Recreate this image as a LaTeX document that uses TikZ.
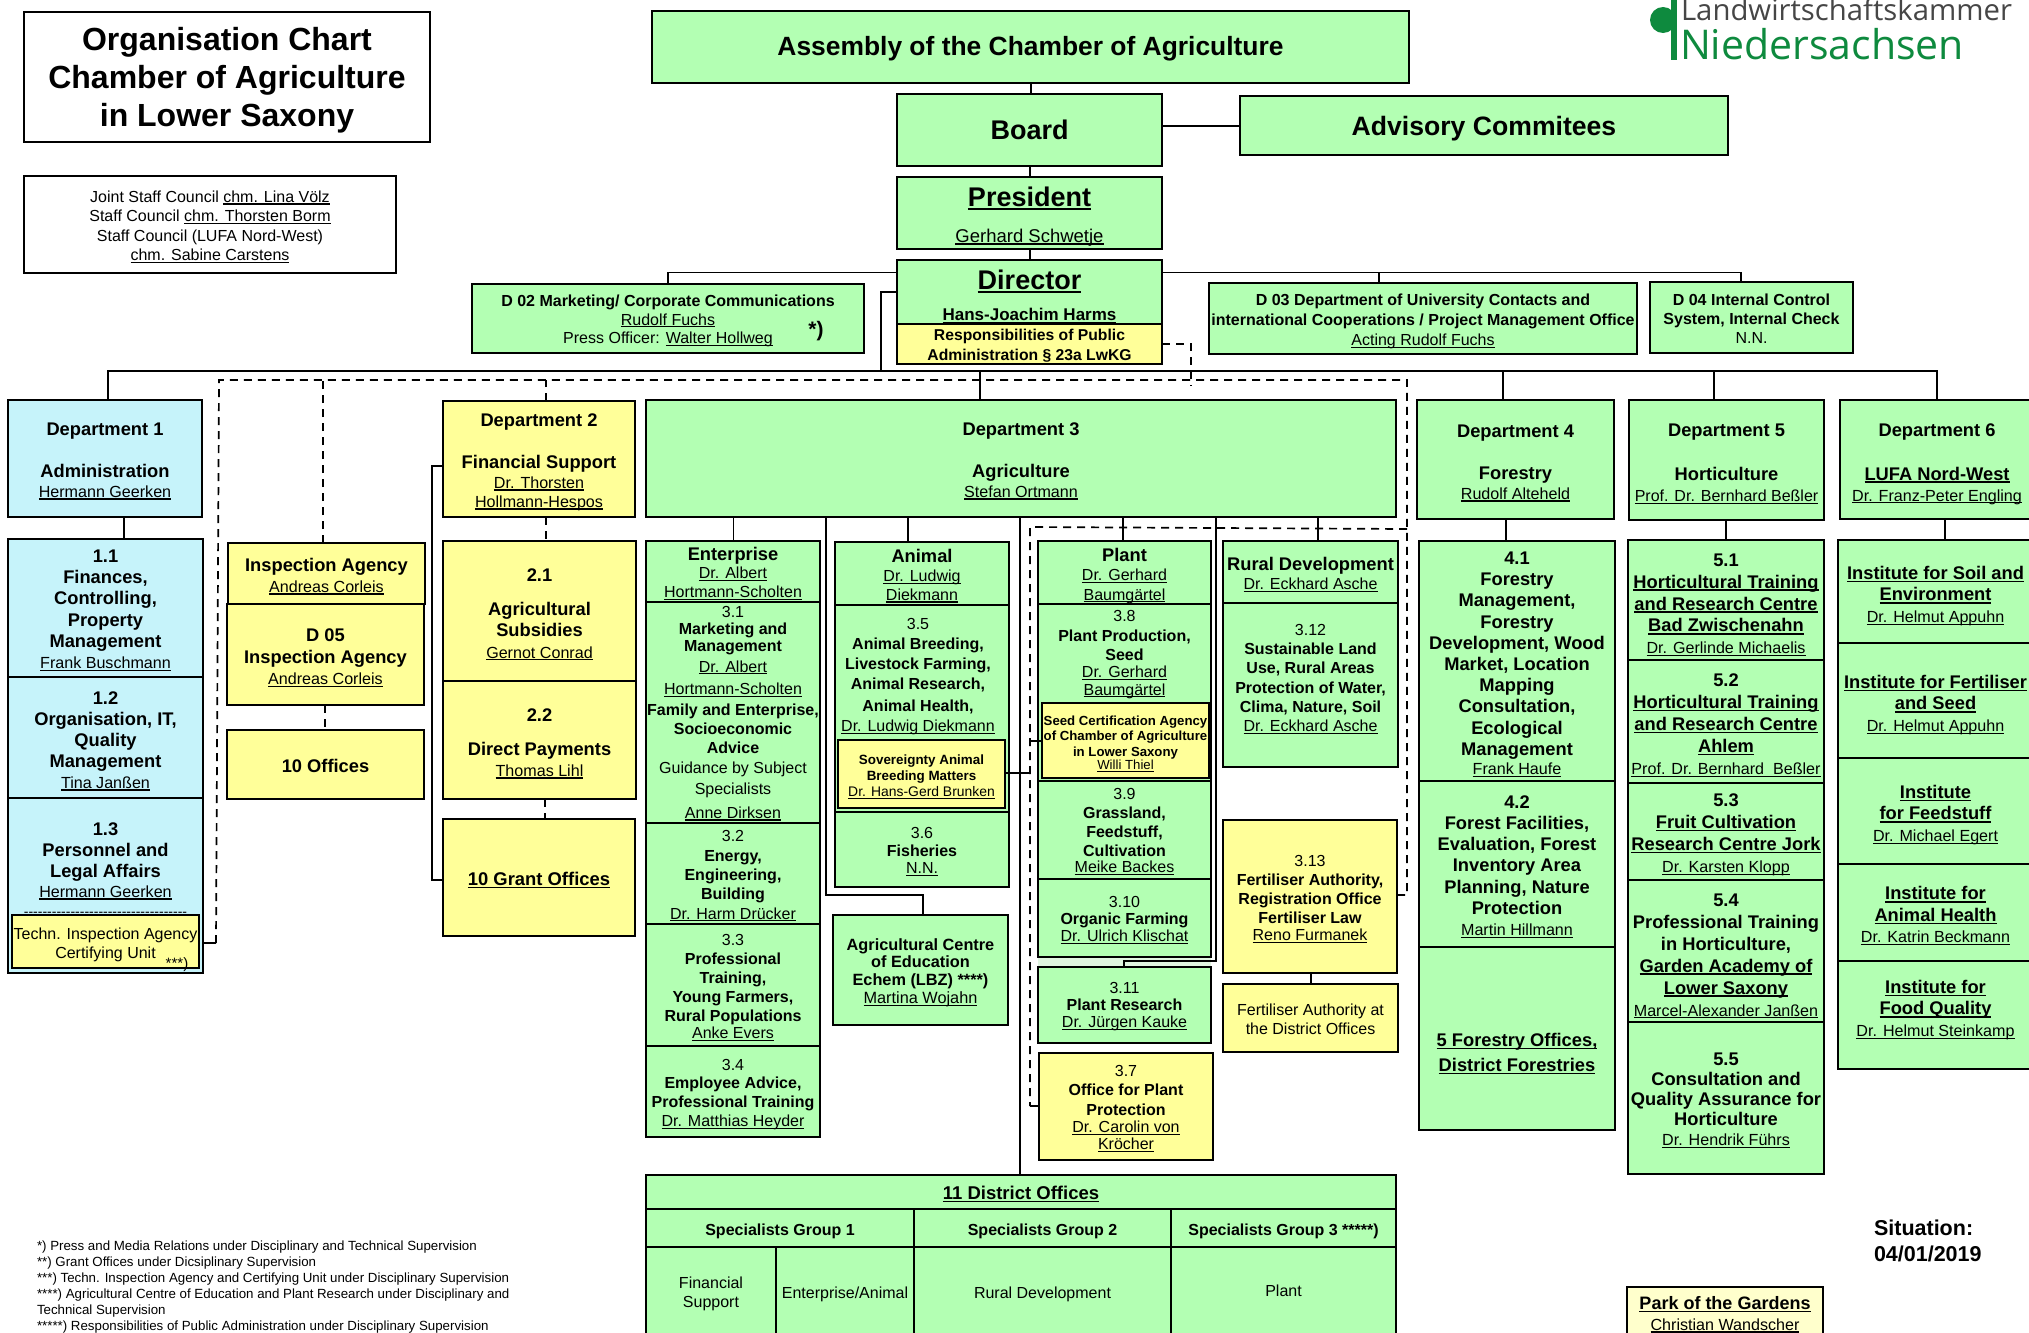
\documentclass[tikz,border=0pt]{standalone}
\usepackage{fontspec}
\setmainfont{Liberation Sans}
\newfontfamily\logofont{Open Sans}
\definecolor{grn}{RGB}{179,255,179}
\definecolor{blu}{RGB}{198,243,250}
\definecolor{yel}{RGB}{255,255,153}
\definecolor{pale}{RGB}{255,255,204}
\definecolor{gap}{RGB}{224,245,224}
\definecolor{logogreen}{RGB}{14,138,62}
\definecolor{logogrey}{RGB}{70,70,70}
\tikzset{
  basebox/.style={draw=black,line width=1.9pt,inner sep=0pt,outer sep=0pt},
  gbox/.style={basebox,fill=grn},
  bbox/.style={basebox,fill=blu},
  ybox/.style={basebox,fill=yel},
  pbox/.style={basebox,fill=pale},
  wbox/.style={basebox,fill=white},
  ln/.style={draw=black,line width=1.8pt},
  dsh/.style={draw=black,line width=1.7pt,dash pattern=on 8pt off 6pt},
  free/.style={inner sep=0pt,outer sep=0pt}
}
\newcommand\ul[1]{\leavevmode\begingroup\setbox0=\hbox{#1}\rlap{\rule[-.14em]{\wd0}{.07em}}\box0\endgroup}
\newcommand\Bu[1]{\ul{\textbf{#1}}}
\newcommand\Nm[1]{{\fontsize{16.1}{20}\selectfont\ul{#1}}}
\newcommand\Nr[1]{{\fontsize{16}{20}\selectfont #1}}
\def\getfmt#1,#2,#3,#4;{\def\fs{#1}\def\fb{#2}\def\fd{#3}\def\fx{#4}}
% style, name, x1,y1,x2,y2, {size,baseline,dy,dx}, content
\newcommand\bx[8]{\getfmt#7;%
  \node[#1,minimum width={(#5-#3)*1pt},minimum height={(#6-#4)*1pt}] (#2) at ({(#3+#5)/2},{(#4+#6)/2})
  {\fontsize{\fs}{\fb}\selectfont\raisebox{\dimexpr-\fd pt-.25em-2.4pt\relax}[0pt][0pt]{\kern\fx pt\makebox[0pt]{\begin{tabular}[c]{@{}c@{}}#8\end{tabular}}\kern-\fx pt}};}
\begin{document}
\begin{tikzpicture}[x=1pt,y=-1pt]
\useasboundingbox (0,0) rectangle (2029,1333);
\fill[white] (0,0) rectangle (2029,1333);
\clip (0,0) rectangle (2029,1333);
% logo
\fill[logogreen] (1663,20) circle (13);
\fill[logogreen] (1671,-2) rectangle (1677,60);
\node[free,anchor=base west,text=logogrey,font=\logofont\fontsize{29.3}{30}\selectfont] (lwk) at (1681,20) {Landwirtschaftskammer};
\node[free,anchor=base west,text=logogreen,font=\logofont\fontsize{41}{42}\selectfont] (nds) at (1680,59) {Niedersachsen};
% top
\bx{wbox}{title}{24}{12}{430}{142}{32,38,0,0}{\textbf{Organisation Chart}\\\textbf{Chamber of Agriculture}\\\textbf{in Lower Saxony}}
\bx{wbox}{staff}{24}{176}{396}{273}{16,19.4,1,0}{Joint Staff Council \ul{chm. Lina Völz}\\Staff Council \ul{chm. Thorsten Borm}\\Staff Council (LUFA Nord-West)\\\ul{chm. Sabine Carstens}}
\bx{gbox}{assembly}{652}{11}{1409}{83}{26.4,30,0,0}{\textbf{Assembly of the Chamber of Agriculture}}
\bx{gbox}{board}{897}{94}{1162}{166}{27,30,1,0}{\textbf{Board}}
\bx{gbox}{adv}{1240}{96}{1728}{155}{26.6,30,1,0}{\textbf{Advisory Commitees}}
\bx{gbox}{pres}{897}{177}{1162}{249}{27,36,1,0}{\Bu{President}\\{\fontsize{18.5}{20}\selectfont\ul{Gerhard Schwetje}}}
\bx{gbox}{dir}{897}{260}{1162}{324}{27,31.5,4,0}{\Bu{Director}\\{\fontsize{17}{20}\selectfont\Bu{Hans-Joachim Harms}}}
\bx{ybox}{resp}{897}{324}{1162}{364}{15.7,20,0,0}{\textbf{Responsibilities of Public}\\\textbf{Administration § 23a LwKG}}
\bx{gbox}{d02}{472}{284}{864}{353}{16,18.3,1,0}{\textbf{D 02 Marketing/ Corporate Communications}\\\ul{Rudolf Fuchs}\\Press Officer: \ul{Walter Hollweg}}
\node[free,font=\bfseries\fontsize{21}{22}\selectfont] (star1) at (816,331) {*)};
\bx{gbox}{d03}{1209}{283}{1637}{354}{16,20,1,0}{\textbf{D 03 Department of University Contacts and}\\\textbf{international Cooperations / Project Management Office}\\\ul{Acting Rudolf Fuchs}}
\bx{gbox}{d04}{1650}{282}{1853}{353}{16,19,1,0}{\textbf{D 04 Internal Control}\\\textbf{System, Internal Check}\\N.N.}
% departments
\bx{bbox}{dep1}{8}{400}{202}{517}{18.3,21,1,0}{\textbf{Department 1}\\ \\\textbf{Administration}\\[-1pt]\Nm{Hermann Geerken}}
\bx{ybox}{dep2}{443}{401}{635}{517}{18.3,21,1,0}{\textbf{Department 2}\\ \\\textbf{Financial Support}\\[-1pt]\Nm{Dr. Thorsten}\\[-2pt]\Nm{Hollmann-Hespos}}
\bx{gbox}{dep3}{646}{400}{1396}{517}{18.3,21,1,0}{\textbf{Department 3}\\ \\\textbf{Agriculture}\\[-1pt]\Nm{Stefan Ortmann}}
\bx{gbox}{dep4}{1417}{400}{1614}{519}{18.3,21,2,0}{\textbf{Department 4}\\ \\\textbf{Forestry}\\[-1pt]\Nm{Rudolf Alteheld}}
\bx{gbox}{dep5}{1629}{400}{1824}{520}{18.3,22,2,0}{\textbf{Department 5}\\ \\\textbf{Horticulture}\\[-1pt]{\fontsize{16}{20}\selectfont\ul{Prof. Dr. Bernhard Beßler}}}
\bx{gbox}{dep6}{1840}{400}{2034}{519}{18.3,22,2,0}{\textbf{Department 6}\\ \\\Bu{LUFA Nord-West}\\[-1pt]\Nm{Dr. Franz-Peter Engling}}
% department 1
\bx{bbox}{s11}{8}{539}{203}{677}{18.3,21.3,0.5,0}{\textbf{1.1}\\\textbf{Finances,}\\\textbf{Controlling,}\\\textbf{Property}\\\textbf{Management}\\\Nm{Frank Buschmann}}
\bx{bbox}{s12}{8}{677}{203}{798}{18.3,21,2,0}{\textbf{1.2}\\\textbf{Organisation, IT,}\\\textbf{Quality}\\\textbf{Management}\\\Nm{Tina Janßen}}
\bx{bbox}{s13}{8}{798}{203}{973}{18.3,21,-16.5,0}{\textbf{1.3}\\\textbf{Personnel and}\\\textbf{Legal Affairs}\\[-1pt]\Nm{Hermann Geerken}\\[-2pt]{\fontsize{14}{14}\selectfont -{}-{}-{}-{}-{}-{}-{}-{}-{}-{}-{}-{}-{}-{}-{}-{}-{}-{}-{}-{}-{}-{}-{}-{}-{}-{}-{}-{}-{}-{}-{}-{}-{}-{}-{}}}
\bx{ybox}{techn}{12}{915}{199}{968}{16,19,1.5,0}{Techn. Inspection Agency\\Certifying Unit}
\node[free,font=\fontsize{15}{16}\selectfont] (star3) at (177,965) {***)};
% inspection agency
\bx{ybox}{ia}{228}{543}{425}{604}{18.3,21,1.5,0}{\textbf{Inspection Agency}\\\Nm{Andreas Corleis}}
\bx{ybox}{d05}{227}{604}{424}{705}{18.3,21.5,2,0}{\textbf{D 05}\\\textbf{Inspection Agency}\\\Nm{Andreas Corleis}}
\bx{ybox}{off10}{227}{730}{424}{799}{18.3,21,1.5,0}{\textbf{10 Offices}}
% department 2
\bx{ybox}{s21}{443}{541}{636}{681}{18.3,21.5,2,0}{\textbf{2.1}\\[12pt]\textbf{Agricultural}\\\textbf{Subsidies}\\\Nm{Gernot Conrad}}
\bx{ybox}{s22}{443}{681}{636}{799}{18.3,21,2,0}{\textbf{2.2}\\[13pt]\textbf{Direct Payments}\\\Nm{Thomas Lihl}}
\bx{ybox}{grant}{443}{819}{635}{936}{18.4,21,1.5,0}{\Bu{10 Grant Offices}}
% department 3, enterprise
\bx{gbox}{ent}{646}{541}{820}{602}{16,18.8,1.5,0}{{\fontsize{18.3}{20}\selectfont\textbf{Enterprise}}\\\ul{Dr. Albert}\\\ul{Hortmann-Scholten}}
\bx{gbox}{s31}{646}{602}{820}{823}{16,19.8,-0.5,0}{3.1\\[-3.5pt]\textbf{Marketing and}\\[-2pt]\textbf{Management}\\[.5pt]\ul{Dr. Albert}\\[2.5pt]\ul{Hortmann-Scholten}\\[1pt]\textbf{Family and Enterprise,}\\[-.5pt]\textbf{Socioeconomic}\\[-1pt]\textbf{Advice}\\\Nr{Guidance by Subject}\\[2pt]\Nr{Specialists}\\[3.5pt]\ul{Anne Dirksen}}
\bx{gbox}{s32}{646}{823}{820}{924}{16,19.3,1,0}{3.2\\\textbf{Energy,}\\\textbf{Engineering,}\\\textbf{Building}\\\ul{Dr. Harm Drücker}}
\bx{gbox}{s33}{646}{924}{820}{1046}{16,19,1,0}{3.3\\\textbf{Professional}\\\textbf{Training,}\\\textbf{Young Farmers,}\\\textbf{Rural Populations}\\[-2pt]\ul{Anke Evers}}
\bx{gbox}{s34}{646}{1046}{820}{1137}{16,18.8,1,0}{3.4\\\textbf{Employee Advice,}\\\textbf{Professional Training}\\\ul{Dr. Matthias Heyder}}
% animal
\bx{gbox}{ani}{835}{542}{1009}{605}{16,18.9,2,0}{{\fontsize{18.3}{20}\selectfont\textbf{Animal}}\\\ul{Dr. Ludwig}\\\ul{Diekmann}}
\bx{gbox}{s35}{835}{605}{1009}{812}{16,20,-34,-4}{3.5\\\textbf{Animal Breeding,}\\\textbf{Livestock Farming,}\\\textbf{Animal Research,}\\[2pt]\textbf{Animal Health,}\\\ul{Dr. Ludwig Diekmann}}
\bx{ybox}{sov}{838}{740}{1005}{808}{13.4,16.2,1,0}{\textbf{Sovereignty Animal}\\\textbf{Breeding Matters}\\{\fontsize{13.9}{16}\selectfont\ul{Dr. Hans-Gerd Brunken}}}
\bx{gbox}{s36}{835}{812}{1009}{887}{16,17.6,1,0}{3.6\\\textbf{Fisheries}\\\ul{N.N.}}
\bx{gbox}{agri}{833}{915}{1008}{1025}{16.3,17.8,1,0}{\textbf{Agricultural Centre}\\\textbf{of Education}\\\textbf{Echem (LBZ) ****)}\\\ul{Martina Wojahn}}
% plant
\fill[gap] (1038,957) rectangle (1211,967);
\bx{gbox}{pla}{1038}{541}{1211}{604}{16,19.2,2.5,0}{{\fontsize{18.3}{20}\selectfont\textbf{Plant}}\\\ul{Dr. Gerhard}\\\ul{Baumgärtel}}
\bx{gbox}{s38}{1038}{604}{1211}{781}{16,19,-40,0}{3.8\\[1pt]\textbf{Plant Production,}\\\textbf{Seed}\\[-2pt]\ul{Dr. Gerhard}\\[-1.5pt]\ul{Baumgärtel}}
\bx{ybox}{seed}{1042}{703}{1209}{778}{13.2,15.7,1,0}{\textbf{Seed Certification Agency}\\\textbf{of Chamber of Agriculture}\\\textbf{in Lower Saxony}\\[-2.5pt]\ul{Willi Thiel}}
\bx{gbox}{s39}{1038}{781}{1211}{879}{16,19,0,0}{3.9\\\textbf{Grassland,}\\\textbf{Feedstuff,}\\\textbf{Cultivation}\\[-3pt]\ul{Meike Backes}}
\bx{gbox}{s310}{1038}{879}{1211}{957}{16,17,1,0}{3.10\\\textbf{Organic Farming}\\\ul{Dr. Ulrich Klischat}}
\bx{gbox}{s311}{1038}{967}{1211}{1043}{16,17,0.5,0}{3.11\\\textbf{Plant Research}\\\ul{Dr. Jürgen Kauke}}
\bx{ybox}{s37}{1039}{1053}{1213}{1160}{16,18.6,1,0}{3.7\\\textbf{Office for Plant}\\[1pt]\textbf{Protection}\\[-1pt]\ul{Dr. Carolin von}\\[-1.5pt]\ul{Kröcher}}
% rural
\bx{gbox}{rur}{1223}{541}{1398}{603}{16,19,2,0}{{\fontsize{18.3}{20}\selectfont\textbf{Rural Development}}\\\ul{Dr. Eckhard Asche}}
\bx{gbox}{s312}{1223}{603}{1398}{767}{16,19.2,-7.5,0}{3.12\\\textbf{Sustainable Land}\\\textbf{Use, Rural Areas}\\\textbf{Protection of Water,}\\\textbf{Clima, Nature, Soil}\\\ul{Dr. Eckhard Asche}}
\bx{ybox}{s313}{1223}{820}{1397}{973}{16,19,1.5,0}{3.13\\\textbf{Fertiliser Authority,}\\\textbf{Registration Office}\\\textbf{Fertiliser Law}\\[-2pt]\ul{Reno Furmanek}}
\bx{ybox}{fdist}{1223}{984}{1398}{1052}{16,19,1.5,0}{Fertiliser Authority at\\the District Offices}
% department 4
\bx{gbox}{s41}{1419}{541}{1615}{781}{18.3,21.2,1.5,0}{\textbf{4.1}\\\textbf{Forestry}\\\textbf{Management,}\\\textbf{Forestry}\\\textbf{Development, Wood}\\\textbf{Market, Location}\\\textbf{Mapping}\\\textbf{Consultation,}\\\textbf{Ecological}\\\textbf{Management}\\[-2pt]\Nm{Frank Haufe}}
\bx{gbox}{s42}{1419}{781}{1615}{947}{18.3,21.3,1,0}{\textbf{4.2}\\\textbf{Forest Facilities,}\\\textbf{Evaluation, Forest}\\\textbf{Inventory Area}\\\textbf{Planning, Nature}\\\textbf{Protection}\\\Nm{Martin Hillmann}}
\bx{gbox}{for5}{1419}{947}{1615}{1130}{18.3,24.5,13,0}{\Bu{5 Forestry Offices,}\\\Bu{District Forestries}}
% department 5
\bx{gbox}{s51}{1628}{540}{1824}{660}{18.3,21.9,3,0}{\textbf{5.1}\\\Bu{Horticultural Training}\\\Bu{and Research Centre}\\\Bu{Bad Zwischenahn}\\\Nm{Dr. Gerlinde Michaelis}}
\bx{gbox}{s52}{1628}{660}{1824}{783}{18.3,22,2,0}{\textbf{5.2}\\\Bu{Horticultural Training}\\\Bu{and Research Centre}\\\Bu{Ahlem}\\\Nm{Prof. Dr. Bernhard\ \ Beßler}}
\bx{gbox}{s53}{1628}{783}{1824}{880}{18.3,22,1,0}{\textbf{5.3}\\\Bu{Fruit Cultivation}\\\Bu{Research Centre Jork}\\\Nm{Dr. Karsten Klopp}}
\bx{gbox}{s54}{1628}{880}{1824}{1022}{18.3,22,3,0}{\textbf{5.4}\\\textbf{Professional Training}\\\textbf{in Horticulture,}\\\Bu{Garden Academy of}\\\Bu{Lower Saxony}\\\Nm{Marcel-Alexander Janßen}}
\bx{gbox}{s55}{1628}{1022}{1824}{1174}{18.3,20,1,0}{\textbf{5.5}\\\textbf{Consultation and}\\\textbf{Quality Assurance for}\\\textbf{Horticulture}\\\Nm{Dr. Hendrik Führs}}
% department 6
\bx{gbox}{i61}{1838}{540}{2033}{643}{18.3,21.5,2.5,0}{\Bu{Institute for Soil and}\\\Bu{Environment}\\\Nm{Dr. Helmut Appuhn}}
\bx{gbox}{i62}{1838}{643}{2033}{758}{18.3,21.5,2.5,0}{\Bu{Institute for Fertiliser}\\\Bu{and Seed}\\\Nm{Dr. Helmut Appuhn}}
\bx{gbox}{i63}{1838}{758}{2033}{864}{18.3,21.5,2,0}{\Bu{Institute}\\\Bu{for Feedstuff}\\\Nm{Dr. Michael Egert}}
\bx{gbox}{i64}{1838}{864}{2033}{961}{18.3,21.5,2,0}{\Bu{Institute for}\\\Bu{Animal Health}\\\Nm{Dr. Katrin Beckmann}}
\bx{gbox}{i65}{1838}{961}{2033}{1069}{18.3,21.5,-7,0}{\Bu{Institute for}\\\Bu{Food Quality}\\\Nm{Dr. Helmut Steinkamp}}
% district offices
\bx{gbox}{dist}{646}{1175}{1396}{1209}{18.5,20,0.5,0}{\Bu{11 District Offices}}
\bx{gbox}{sg1}{646}{1209}{914}{1247}{16,20,1,0}{\textbf{Specialists Group 1}}
\bx{gbox}{sg2}{914}{1209}{1171}{1247}{16,20,1,0}{\textbf{Specialists Group 2}}
\bx{gbox}{sg3}{1171}{1209}{1396}{1247}{16,20,1,0}{\textbf{Specialists Group 3 *****)}}
\bx{gbox}{fin}{646}{1247}{776}{1345}{16,19,-4,0}{Financial\\Support}
\bx{gbox}{ea}{776}{1247}{914}{1345}{16,19,-3,0}{Enterprise/Animal}
\bx{gbox}{rd}{914}{1247}{1171}{1345}{16,19,-3,0}{Rural Development}
\bx{gbox}{pl}{1171}{1247}{1396}{1345}{16,19,-5,0}{Plant}
\bx{pbox}{park}{1627}{1287}{1823}{1350}{18,21,-5.5,0}{\Bu{Park of the Gardens}\\\Nm{Christian Wandscher}}
% free text
\node[free,anchor=north west,align=left,font=\fontsize{13.3}{16}\selectfont] (notes) at (37,1240.5) {*) Press and Media Relations under Disciplinary and Technical Supervision\\**) Grant Offices under Dicsiplinary Supervision\\***) Techn. Inspection Agency and Certifying Unit under Disciplinary Supervision\\****) Agricultural Centre of Education and Plant Research under Disciplinary and\\Technical Supervision\\*****) Responsibilities of Public Administration under Disciplinary Supervision};
\node[free,anchor=west,align=left,font=\bfseries\fontsize{21.5}{26}\selectfont] (sit) at (1874,1241) {Situation:\\04/01/2019};
% junctions
\coordinate (busJ) at (881,371);
\coordinate (busE) at (1937,371);
\coordinate (dashTL) at (219,380);
\coordinate (dashTR) at (1407,380);
\coordinate (innerTL) at (1030,527);
\coordinate (agriJ) at (923,895);
\coordinate (prJ) at (1216,961);
% connectors
\draw[ln] (assembly.south -| 1031,0) -- (board.north -| 1031,0);
\draw[ln] (board.south -| 1030,0) -- (pres.north -| 1030,0);
\draw[ln] (pres.south -| 1030,0) -- (dir.north -| 1030,0);
\draw[ln] (board.east |- 0,126) -- (adv.west |- 0,126);
\draw[ln] (dir.west |- 0,272.5) -| (d02.north -| 668,0);
\draw[ln] (dir.east |- 0,272.5) -| (d04.north -| 1741,0);
\draw[ln] (d03.north -| 1379,0) -- ++(0,-10.5);
\draw[ln] (dir.west |- 0,292) -| (busJ);
\draw[ln] (dep1.north -| 108,0) |- (busE) -- (dep6.north -| busE);
\draw[ln] (dep3.north -| 980,0) |- (busJ);
\draw[ln] (dep4.north -| 1503,0) |- (busE);
\draw[ln] (dep5.north -| 1714,0) |- (busE);
\draw[ln] (dep1.south -| 124,0) -- (s11.north -| 124,0);
\draw[ln] (dep3.south -| 733.5,0) -- (ent.north -| 733.5,0);
\draw[ln] (dep3.south -| 908,0) -- (ani.north -| 908,0);
\draw[ln] (dep3.south -| 1123,0) -- (pla.north -| 1123,0);
\draw[ln] (dep3.south -| 1318,0) -- (rur.north -| 1318,0);
\draw[ln] (dep3.south -| 1020,0) -- (dist.north -| 1020,0);
\draw[ln] (dep3.south -| 826,0) |- (agriJ) -- (agri.north -| agriJ);
\draw[ln] (dep3.south -| prJ) |- (prJ -| 1124,0) -- (s311.north -| 1124,0);
\draw[ln] (dep4.south -| 1506,0) -- (s41.north -| 1506,0);
\draw[ln] (dep5.south -| 1726,0) -- (s51.north -| 1726,0);
\draw[ln] (dep6.south -| 1945,0) -- (i61.north -| 1945,0);
\draw[ln] (s313.south -| 1311,0) -- (fdist.north -| 1311,0);
\draw[ln] (dep2.west |- 0,466) -- ++(-11,0) |- (grant.west |- 0,880);
% dashed
\draw[dsh] (resp.east) -| (1191,386);
\draw[ln] (s13.east |- 0,943) -- ++(13,0) coordinate (dashBL);
\draw[dsh] (dashBL) -- (dashTL) -- (dashTR) |- (s313.east |- 0,895);
\draw[dsh] (ia.north -| 323,0) -- (323,380);
\draw[dsh] (dep2.north -| 546,0) -- (546,380);
\draw[dsh] (dep2.south -| 546,0) -- (s21.north -| 546,0);
\draw[dsh] (s22.south -| 545,0) -- (grant.north -| 545,0);
\draw[dsh] (d05.south -| 325,0) -- (off10.north -| 325,0);
\draw[dsh] (1407,529) -- (innerTL) -- (1030,1106);
\draw[ln] (1030,1106) -- (s37.west |- 0,1106);
\draw[ln] (sov.east |- 0,773) -- (1030,773);
\draw[ln] (1030,741) -- (seed.west |- 0,741);
\end{tikzpicture}
\end{document}
